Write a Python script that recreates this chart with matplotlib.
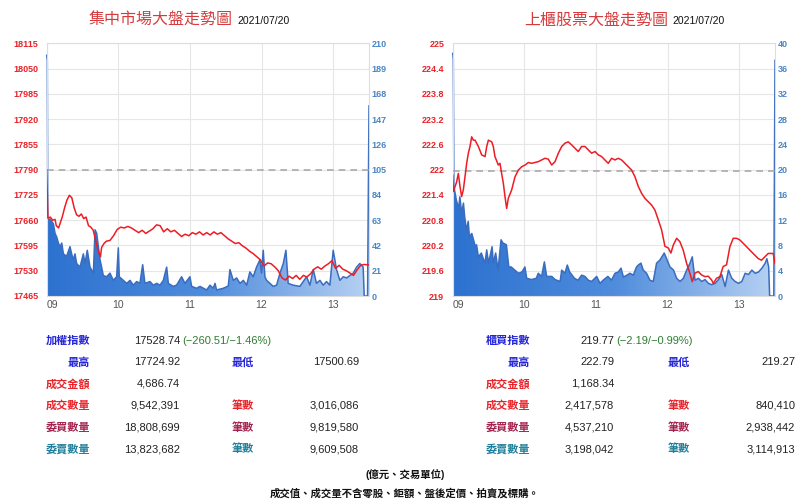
import numpy as np
import matplotlib
matplotlib.use('Agg')
import matplotlib.pyplot as plt
from matplotlib.colors import LinearSegmentedColormap

plt.rcParams['font.family'] = ['Liberation Sans', 'Noto Sans CJK TC', 'DejaVu Sans']

# ---- data (minutes after 09:00) ----
hour_labels = ['09', '10', '11', '12', '13']

# TWSE index
twse_t = [0, 1, 3, 5, 7, 8, 10, 11, 13, 15,
          17, 19, 21, 23, 25, 27, 29, 31, 33, 35,
          37, 39, 41, 43, 45, 46, 48, 50, 53, 56,
          59, 62, 65, 68, 71, 74, 77, 80, 83, 86,
          89, 92, 95, 98, 101, 104, 107, 110, 113, 116,
          119, 122, 125, 128, 131, 134, 137, 140, 143, 146,
          149, 152, 155, 158, 161, 164, 167, 170, 173, 176,
          179, 182, 185, 188, 191, 194, 197, 200, 203, 206,
          209, 212, 215, 218, 221, 224, 227, 230, 233, 236,
          239, 242, 245, 248, 251, 254, 257, 260, 263, 266,
          270]
twse_v = [17789, 17665, 17668, 17660, 17662, 17646, 17640, 17650, 17668, 17692,
          17712, 17724, 17718, 17692, 17674, 17670, 17676, 17664, 17668, 17646,
          17642, 17634, 17608, 17582, 17566, 17590, 17600, 17606, 17608, 17620,
          17636, 17642, 17640, 17644, 17640, 17634, 17628, 17634, 17626, 17632,
          17638, 17648, 17646, 17630, 17638, 17630, 17634, 17626, 17618, 17624,
          17620, 17628, 17624, 17630, 17622, 17628, 17622, 17630, 17624, 17628,
          17620, 17612, 17606, 17600, 17602, 17594, 17588, 17580, 17574, 17566,
          17558, 17542, 17550, 17548, 17540, 17530, 17512, 17506, 17516, 17510,
          17518, 17508, 17518, 17514, 17522, 17534, 17540, 17534, 17542, 17548,
          17556, 17536, 17544, 17534, 17530, 17524, 17518, 17532, 17544, 17546,
          17545]
twse_prev = 17789.25

twse_vol_t = [0, 0.5, 0.9, 2.8, 5.6, 7, 8.4, 9.8, 11.2, 12.6, 14,
              16.7, 19.5, 20.9, 22.3, 23.7, 25.1, 27.9, 30.7, 32.1, 34,
              36.3, 39.1, 40.5, 41.9, 43.3, 44.7, 46, 47.4, 50.2, 53,
              55.8, 58.6, 60, 60.8, 64.2, 67, 69.8, 72.6, 75.4, 78.1,
              80.4, 82.3, 86.5, 89.3, 92.1, 94.9, 97.7, 100.5, 101.9, 106,
              108.8, 113, 115.8, 120, 121.4, 125.6, 128.4, 134, 136.8, 139.5,
              141, 142.3, 147.9, 152.1, 153.5, 156.3, 159.1, 161.9, 164.7, 167.5,
              170.2, 173, 175.8, 178.6, 180, 181.4, 182.8, 184.2, 187, 189.8,
              192.6, 195.4, 198.2, 200.4, 202.3, 206.5, 212.1, 214.9, 217.7, 220.5,
              223.3, 226, 228.9, 231.6, 234.4, 237.2, 240, 242.8, 245.6, 248.4,
              251.2, 254, 256.8, 259.6, 262.3, 265.1, 266, 268.8, 270]
twse_vol = [200, 196, 63, 64, 60, 52, 49, 44, 41, 44, 35,
            33, 41, 35, 30, 35, 27, 24, 35, 27, 38,
            24, 19, 55, 52, 41, 30, 24, 17, 16, 19,
            13, 16, 40, 16, 13, 10.5, 13, 9, 12, 10.5,
            26, 10.5, 12, 9, 10.5, 9, 13, 24, 10.5, 8,
            9, 16, 10.5, 16, 8, 6.4, 8, 5, 9, 6.4,
            10.5, 5, 6.4, 8.3, 22, 13, 15, 10.5, 13, 9,
            20, 16, 24, 30, 19, 38, 16, 13, 10.5, 8,
            9, 19, 27, 38, 10.5, 9, 8, 12, 16, 9,
            22, 10.5, 13, 9, 12, 9, 38, 22, 13, 16,
            15, 17, 19, 24, 27, 24, 0, 0, 158]

# OTC index
otc_t = [0, 0.6, 2, 3.3, 4.7, 6.1, 7.5, 8.9, 10.3, 11.7,
         13.1, 14.5, 15.9, 17.3, 18.7, 21.5, 24.3, 27.1, 28.5, 29.9,
         32.7, 34, 35.4, 38.2, 39.6, 41, 42.4, 43.8, 45.2, 46.6,
         49.4, 52.2, 55, 57.8, 60.6, 63.4, 66.1, 71.7, 77.3, 80.1,
         82.9, 85.7, 88.5, 91.3, 94.1, 96.8, 99.6, 102.4, 105.2, 108,
         110.8, 113.6, 116.4, 119.2, 122, 124.8, 127.5, 130.3, 133.1, 135.9,
         138.7, 141.5, 144.3, 147.1, 149.9, 152.7, 155.5, 158.2, 161, 163.8,
         166.6, 169.4, 172.2, 175, 177.8, 180.6, 182.8, 184.8, 187.6, 190.3,
         193.1, 195.9, 198.7, 200.7, 202.9, 205.7, 208.5, 211.3, 214.1, 216.9,
         218.3, 221, 223.8, 226.6, 229.4, 232.2, 235, 237.8, 240.6, 244.8,
         250.3, 255.9, 258.7, 261.5, 264.3, 268.5, 270]
otc_v = [221.87, 221.48, 221.60, 221.71, 221.91, 221.60, 221.36, 221.52, 221.83, 222.15,
         222.39, 222.55, 222.78, 222.70, 222.70, 222.55, 222.35, 222.31, 222.55, 222.70,
         222.66, 222.55, 222.31, 222.11, 222.15, 221.91, 221.68, 221.36, 221.08, 221.32,
         221.52, 221.83, 221.99, 222.07, 222.11, 222.17, 222.15, 222.19, 222.27, 222.25,
         222.11, 222.19, 222.39, 222.55, 222.63, 222.66, 222.59, 222.51, 222.43, 222.55,
         222.55, 222.47, 222.39, 222.43, 222.35, 222.31, 222.23, 222.15, 222.27, 222.23,
         222.27, 222.23, 222.15, 222.07, 221.99, 221.83, 221.60, 221.44, 221.32, 221.24,
         221.16, 221.04, 220.81, 220.57, 220.18, 220.14, 220.02, 220.21, 220.37, 220.29,
         220.09, 219.78, 219.54, 219.34, 219.54, 219.58, 219.50, 219.46, 219.47, 219.38,
         219.30, 219.42, 219.46, 219.70, 219.74, 220.17, 220.37, 220.37, 220.33, 220.21,
         220.05, 219.89, 219.85, 219.93, 220.01, 220.01, 219.77]
otc_prev = 221.96

otc_vol_t = [0, 0.5, 1, 2, 3, 5, 6, 7.5, 9, 10, 11.5,
             13, 14, 16, 19, 20, 21.5, 24, 26, 27, 28.5,
             30, 33, 34, 36, 38, 40.5, 42, 45, 47, 49,
             52, 55, 58, 60.5, 62, 66, 70, 71.7, 74.5, 76.8,
             78.7, 83, 85.7, 90, 91.3, 94, 96, 98, 102, 105,
             108, 110.8, 113.6, 116.4, 120.6, 123.4, 126, 130, 133, 136,
             138.7, 141, 143, 146, 148.5, 151.3, 154, 155.5, 157.7, 159.6,
             162.4, 165.2, 168, 170.8, 173.6, 177.2, 179.2, 182, 185, 187.6,
             190.4, 193.2, 196, 198.8, 200.7, 203, 205.8, 208.6, 211.4, 214.2,
             217, 219.8, 222.6, 225.4, 228.2, 231, 233.8, 236.6, 239.4, 242.2,
             245, 247.8, 250.6, 253.4, 256.2, 259, 261.8, 263.2, 264.7, 265.5,
             269, 270]
otc_vol = [38.4, 37.5, 17.3, 16.3, 15.2, 13.9, 15.7, 13.1, 14.7, 12.6, 10.4,
           11.8, 9.4, 9.9, 7.8, 8.1, 6.2, 6.8, 5.7, 5.2, 7.3,
           5.2, 7.8, 5.2, 6.8, 4.1, 8.9, 8.4, 8.1, 4.6, 4.6,
           4.1, 3.6, 3.8, 4.6, 2.8, 2.6, 2.8, 3.6, 3.1, 5.4,
           3.1, 3.1, 2.6, 2.3, 4.1, 3.6, 4.9, 3.8, 2.8, 2.5,
           3.3, 3.1, 2.5, 2.3, 3.1, 2.0, 2.5, 3.1, 2.5, 3.6,
           3.8, 4.4, 3.0, 3.3, 3.6, 3.3, 4.6, 4.9, 5.2, 4.1,
           3.6, 2.5, 2.3, 5.2, 5.7, 6.8, 5.9, 4.6, 4.1, 2.8,
           2.3, 2.8, 4.1, 5.2, 6.2, 2.5, 2.8, 2.3, 2.6, 2.0,
           1.8, 2.0, 2.6, 3.4, 1.5, 4.1, 2.8, 2.3, 2.0, 2.3,
           3.6, 3.4, 4.1, 3.6, 3.8, 4.4, 5.2, 5.9, 4.6, 0,
           0, 37.3]

# ---- styling ----
RED = '#e8232a'
AXBLUE = '#4a86c5'
GRID = '#e6e6e6'
W, H = 810, 504

fig = plt.figure(figsize=(8.1, 5.04), dpi=100)


def px(x, y):
    return x / W, 1 - y / H


def draw_panel(x0, x1, p_t, p_v, p_lo, p_hi, p_ticks, p_prev, v_t, v_v, v_max, v_ticks, p_fmt):
    l, b = px(x0, 296)
    ax = fig.add_axes([l, b, (x1 - x0) / W, (296 - 43.3) / H])
    ax2 = ax.twinx()
    ax.set_zorder(1)
    ax2.set_zorder(2)
    ax2.patch.set_visible(False)

    # gradient volume area
    xs = np.r_[v_t[0], v_t, v_t[-1]]
    ys = np.r_[0, v_v, 0]
    poly, = ax.fill(xs, ys, facecolor='none', edgecolor='none')
    cmap = LinearSegmentedColormap.from_list('g', ['#2d72d0', '#4f8cdc', '#b8d2f3'])
    im = ax.imshow(np.linspace(0, 1, 256).reshape(1, -1), cmap=cmap, aspect='auto',
                   extent=[0, 270, 0, v_max], origin='lower', zorder=1)
    im.set_clip_path(poly)
    ax.plot(v_t, v_v, color='#3a6cbf', lw=1.1, zorder=2, clip_on=False)
    ax.set_xlim(0, 270)
    ax.set_ylim(0, v_max)
    ax.yaxis.tick_right()
    ax.set_yticks(v_ticks)
    ax.set_yticklabels([str(v) for v in v_ticks])
    ax.set_xticks([0, 60, 120, 180, 240])
    ax.set_xticklabels(hour_labels)
    ax.xaxis.get_majorticklabels()[0].set_horizontalalignment('left')
    ax.tick_params(axis='y', length=0, pad=2, labelsize=6.5, labelcolor=AXBLUE)
    ax.tick_params(axis='x', length=0, pad=3, labelsize=7.5, labelcolor='#555555')
    ax.grid(True, color=GRID, lw=0.8, zorder=0)
    ax.set_axisbelow(True)
    for s in ax.spines.values():
        s.set_color('#dddddd')
        s.set_linewidth(0.8)

    ax2.set_ylim(p_lo, p_hi)
    ax2.yaxis.tick_left()
    ax2.set_yticks(p_ticks)
    ax2.set_yticklabels([p_fmt(v) for v in p_ticks])
    ax2.tick_params(axis='y', length=0, pad=6, labelsize=6.5, labelcolor=RED)
    ax2.axhline(p_prev, color='#aaaaaa', lw=1.2, ls=(0, (4, 3)), zorder=3)
    ax2.plot(p_t, p_v, color='#ee1c25', lw=1.1, zorder=4)
    ax2.set_xlim(0, 270)
    for s in ax2.spines.values():
        s.set_visible(False)
    for lab in ax2.get_yticklabels() + ax.get_yticklabels():
        lab.set_fontweight('bold')
    return ax, ax2


twse_ticks = [17465 + 65 * i for i in range(11)]
draw_panel(46.7, 369, twse_t, twse_v, 17465, 18115, twse_ticks, twse_prev,
           twse_vol_t, twse_vol, 210, [21 * i for i in range(11)], lambda v: str(v))

otc_ticks = [219 + 0.6 * i for i in range(11)]
draw_panel(452.7, 775, otc_t, otc_v, 219, 225, otc_ticks, otc_prev,
           otc_vol_t, otc_vol, 40, [4 * i for i in range(11)],
           lambda v: ('%.1f' % v).rstrip('0').rstrip('.'))

# titles
TITLE_RED = '#d53b3d'
fig.text(*px(233, 20.5), '集中市場大盤走勢圖', ha='right', va='center', fontsize=11.5,
         color=TITLE_RED, fontweight='medium')
fig.text(*px(237, 21.5), '2021/07/20', ha='left', va='center', fontsize=7.5, color='#111111')
fig.text(*px(668, 20.5), '上櫃股票大盤走勢圖', ha='right', va='center', fontsize=11.5,
         color=TITLE_RED, fontweight='medium')
fig.text(*px(672, 21.5), '2021/07/20', ha='left', va='center', fontsize=7.5, color='#111111')

# tables
BLUE = '#2424d8'
MAROON = '#a3234f'
TEAL = '#1f7f9a'
GREEN = '#2f7d32'
VAL = '#222222'
rows_y = [340.7, 362.3, 384, 405.7, 427.3, 449]

twse_labels = ['加權指數', '最高', '成交金額', '成交數量', '委買數量', '委賣數量']
twse_values = ['17528.74', '17724.92', '4,686.74', '9,542,391', '18,808,699', '13,823,682']
twse_change = '(−260.51/−1.46%)'
twse_labels2 = ['', '最低', '', '筆數', '筆數', '筆數']
twse_values2 = ['', '17500.69', '', '3,016,086', '9,819,580', '9,609,508']

otc_labels = ['櫃買指數', '最高', '成交金額', '成交數量', '委買數量', '委賣數量']
otc_values = ['219.77', '222.79', '1,168.34', '2,417,578', '4,537,210', '3,198,042']
otc_change = '(−2.19/−0.99%)'
otc_labels2 = ['', '最低', '', '筆數', '筆數', '筆數']
otc_values2 = ['', '219.27', '', '840,410', '2,938,442', '3,114,913']

row_colors = [BLUE, BLUE, RED, RED, MAROON, TEAL]


def draw_table(xl, xv, xl2, xv2, labels, values, change, labels2, values2):
    for i, y in enumerate(rows_y):
        fig.text(*px(xl, y), labels[i], ha='right', va='center', fontsize=8,
                 color=row_colors[i], fontweight='bold')
        fig.text(*px(xv, y), values[i], ha='right', va='center', fontsize=8, color=VAL)
        if labels2[i]:
            fig.text(*px(xl2, y), labels2[i], ha='left', va='center', fontsize=8,
                     color=row_colors[i], fontweight='bold')
            fig.text(*px(xv2, y), values2[i], ha='right', va='center', fontsize=8, color=VAL)
    fig.text(*px(xv + 2.5, rows_y[0]), change, ha='left', va='center', fontsize=8, color=GREEN)


draw_table(90, 180, 232, 359, twse_labels, twse_values, twse_change, twse_labels2, twse_values2)
draw_table(530, 614, 668, 795, otc_labels, otc_values, otc_change, otc_labels2, otc_values2)

fig.text(*px(405, 475), '(億元、交易單位)', ha='center', va='center', fontsize=7.5,
         color='#111111', fontweight='bold')
fig.text(*px(405, 493.5), '成交值、成交量不含零股、鉅額、盤後定價、拍賣及標購。', ha='center',
         va='center', fontsize=7.5, color='#111111', fontweight='bold')

fig.savefig('out.png', dpi=100)
